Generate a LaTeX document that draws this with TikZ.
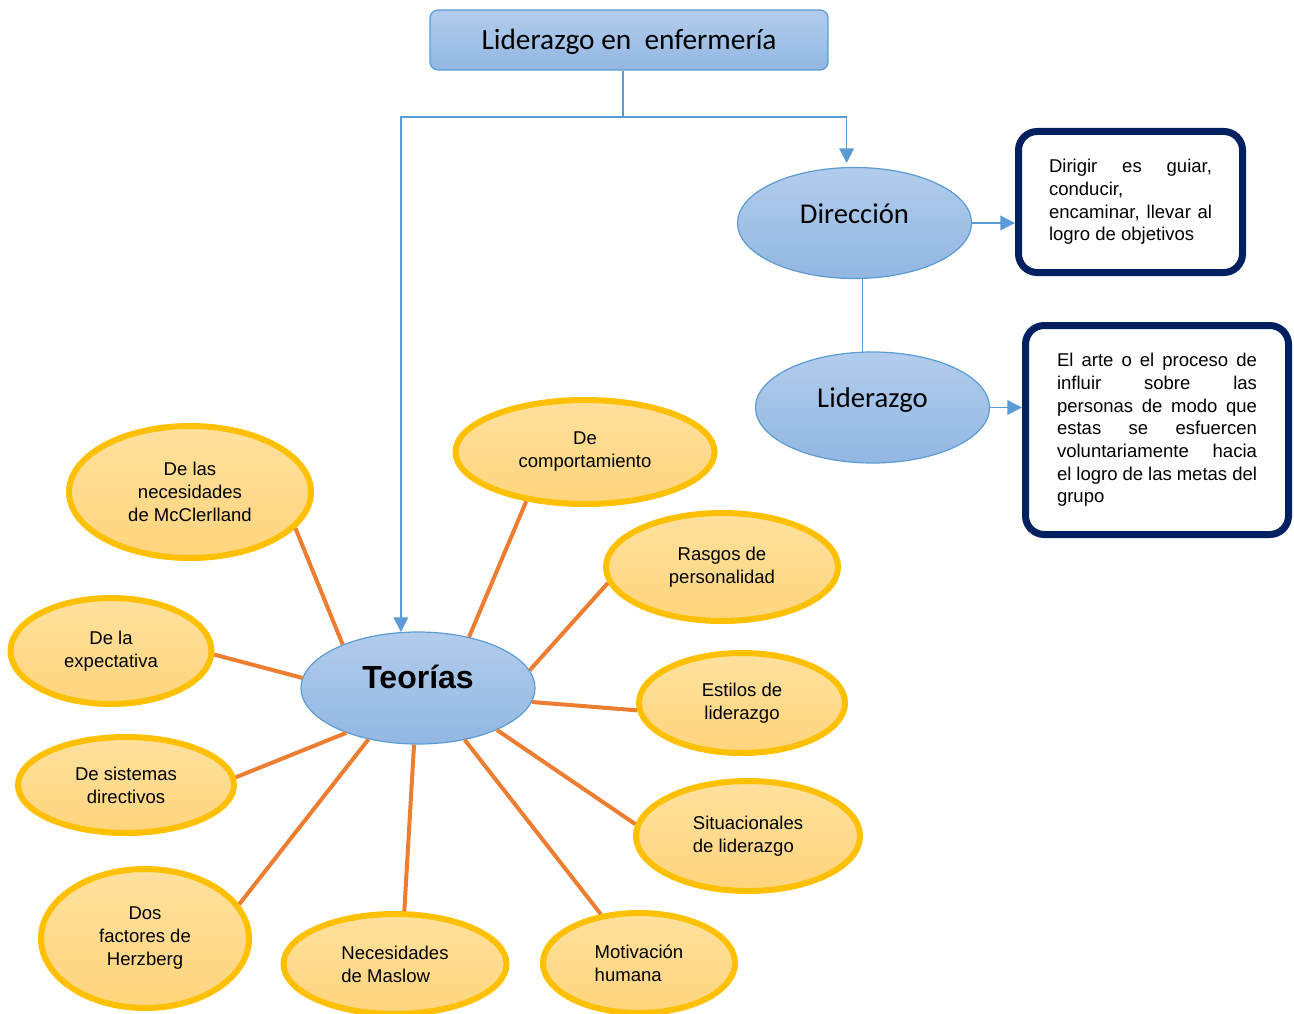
\documentclass[tikz,border=0pt]{standalone}
\usepackage{fontspec}
\setmainfont{Liberation Sans}
\newfontfamily\calibri{Carlito}
\usetikzlibrary{shapes.geometric,arrows.meta}
\definecolor{azulborde}{RGB}{91,155,213}
\definecolor{azularriba}{RGB}{178,204,236}
\definecolor{azulabajo}{RGB}{146,183,226}
\definecolor{amarilloborde}{RGB}{255,192,0}
\definecolor{amarilloarriba}{RGB}{254,225,158}
\definecolor{amarilloabajo}{RGB}{255,212,124}
\definecolor{naranja}{RGB}{237,125,49}
\definecolor{marino}{RGB}{0,32,96}
\tolerance=10000 \hbadness=10000 \hyphenpenalty=10000

\begin{document}
\begin{tikzpicture}[x=0.75pt,y=-0.75pt,
  tema/.style={ellipse,draw=azulborde,line width=0.9pt,top color=azularriba,
    bottom color=azulabajo,minimum width=175.5pt,minimum height=83.25pt,
    text height=11pt,text depth=11pt,font=\calibri\fontsize{21.5}{26}\selectfont},
  teoria/.style 2 args={ellipse,draw=amarilloborde,line width=4.5pt,
    top color=amarilloarriba,bottom color=amarilloabajo,inner sep=0pt,
    minimum width=#1,minimum height=#2,align=center,
    font=\fontsize{13.9}{17.25}\selectfont},
  nota/.style={draw=marino,line width=5.25pt,rounded corners=14pt,fill=white,
    align=justify,font=\fontsize{13.9}{17}\selectfont},
  rama/.style={draw=naranja,line width=3pt},
  flecha/.style={draw=azulborde,line width=1.1pt,-{Triangle[length=11pt,width=11pt]}}]
  \useasboundingbox (0,0) rectangle (1294,1013);
  \clip (0,0) rectangle (1294,1013);

  % titulo
  \node[draw=azulborde,line width=0.9pt,rounded corners=6pt,top color=azularriba,
    bottom color=azulabajo,minimum width=298.5pt,minimum height=45pt,
    text height=15pt,text depth=0pt,font=\calibri\fontsize{22}{26}\selectfont]
    (tit) at (629,40) {Liderazgo en\ \ enfermería};

  \node[tema] (dir) at (854.5,223) {Dirección};
  \node[tema] (lid) at (872.5,407.5) {Liderazgo};
  \node[tema,minimum height=84pt,font=\bfseries\fontsize{24}{28}\selectfont]
    (teo) at (418,688) {Teorías};

  % definiciones
  \node[nota,minimum width=168pt,minimum height=105.75pt,text width=122.25pt]
    (def1) at (1130.5,202) {Dirigir es guiar,\linebreak conducir,\\
    encaminar, llevar al\linebreak logro de objetivos};
  \node[nota,minimum width=197.25pt,minimum height=156.75pt,text width=150pt]
    (def2) at (1157,430) {El arte o el proceso de\linebreak influir sobre
    las\linebreak personas de modo que\linebreak estas se esfuercen\linebreak
    voluntariamente hacia\linebreak el logro de las metas del\linebreak grupo};

  % teorias
  \node[teoria={181.5pt}{99pt}] (mcc) at (190,492) {De las\\necesidades\\de McClerlland};
  \node[teoria={194.25pt}{78pt}] (comp) at (585,452) {De\\comportamiento};
  \node[teoria={174pt}{81pt}] (ras) at (722,567) {Rasgos de\\personalidad};
  \node[teoria={150.75pt}{79.5pt}] (expe) at (111,651) {De la\\expectativa};
  \node[teoria={154.5pt}{75pt}] (est) at (742,703) {Estilos de\\liderazgo};
  \node[teoria={162pt}{72pt}] (sis) at (126,785) {De sistemas\\directivos};
  \node[teoria={168pt}{82.5pt},align=left] (sit) at (748,836) {Situacionales\\de liderazgo};
  \node[teoria={156pt}{104.25pt}] (her) at (145,938.5) {Dos\\factores de\\Herzberg};
  \node[teoria={167.25pt}{75pt},align=left] (mas) at (395,964) {Necesidades\\de Maslow};
  \node[teoria={144pt}{75pt},align=left] (mot) at (639,963) {Motivación\\humana};

  % flechas azules
  \coordinate (rep) at (623,117);
  \draw[azulborde,line width=1.1pt] (tit.south -| rep) -- (rep);
  \draw[flecha] (rep) -| (teo.107);
  \draw[flecha,shorten >=3pt] (rep) -| (dir.98);
  \draw[flecha] (dir.east) -- (dir.east -| def1.west);
  \draw[azulborde,line width=1.1pt] (dir.south -| lid.100) -- (lid.100);
  \draw[flecha] (lid.east) -- (lid.east -| def2.west);

  % ramas
  \draw[rama] (teo.150) -- (mcc.341);
  \draw[rama] (teo.45) -- (comp.220);
  \draw[rama] (teo.9) -- (ras.188);
  \draw[rama] (teo.175) -- (expe.358);
  \draw[rama] (teo.-7) -- (est.184);
  \draw[rama] (teo.212) -- (sis.4);
  \draw[rama] (teo.332) -- (sit.174);
  \draw[rama] (teo.226) -- (her.20);
  \draw[rama] (teo.266) -- (mas.80);
  \draw[rama] (teo.312) -- (mot.128);
\end{tikzpicture}
\end{document}
